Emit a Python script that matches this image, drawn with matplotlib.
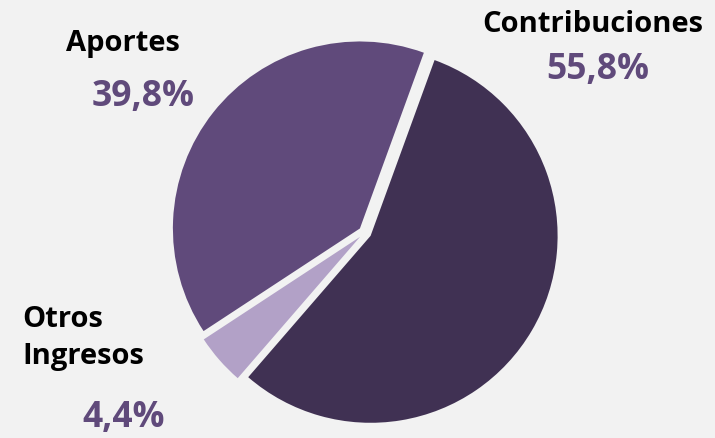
import matplotlib
matplotlib.use("Agg")
import matplotlib.pyplot as plt

categories = ["Contribuciones", "Otros\nIngresos", "Aportes"]
values = [55.8, 4.4, 39.8]
pct_labels = ["55,8%", "4,4%", "39,8%"]
colors = ["#403153", "#B2A1C7", "#604A7B"]
bg = "#F2F2F2"
pct_color = "#604A7B"

fig = plt.figure(figsize=(7.15, 4.38), dpi=100, facecolor=bg)
ax = fig.add_axes([0, 0, 1, 1])
ax.set_facecolor(bg)

ax.pie(values, colors=colors, startangle=70, counterclock=False,
       explode=[6.5, 6.5, 6.5], center=(365, 438 - 232.5), radius=187,
       wedgeprops=dict(linewidth=0), frame=True)
ax.set_xlim(0, 715)
ax.set_ylim(0, 438)
ax.set_aspect("equal")
ax.axis("off")

font = "Open Sans"
lab_kw = dict(fontsize=21, fontweight="bold", color="black", family=font)
pct_kw = dict(fontsize=25.5, fontweight="bold", color=pct_color, family=font)

# Contribuciones
ax.text(593, 438 - 25, categories[0], ha="center", va="center", **lab_kw)
ax.text(598, 438 - 70, pct_labels[0], ha="center", va="center", **pct_kw)
# Aportes
ax.text(123, 438 - 43, categories[2], ha="center", va="center", **lab_kw)
ax.text(143, 438 - 97, pct_labels[2], ha="center", va="center", **pct_kw)
# Otros Ingresos
ax.text(22, 438 - 338, categories[1], ha="left", va="center", linespacing=1.4, **lab_kw)
ax.text(124, 438 - 418, pct_labels[1], ha="center", va="center", **pct_kw)

fig.savefig("out.png", dpi=100, facecolor=bg)
